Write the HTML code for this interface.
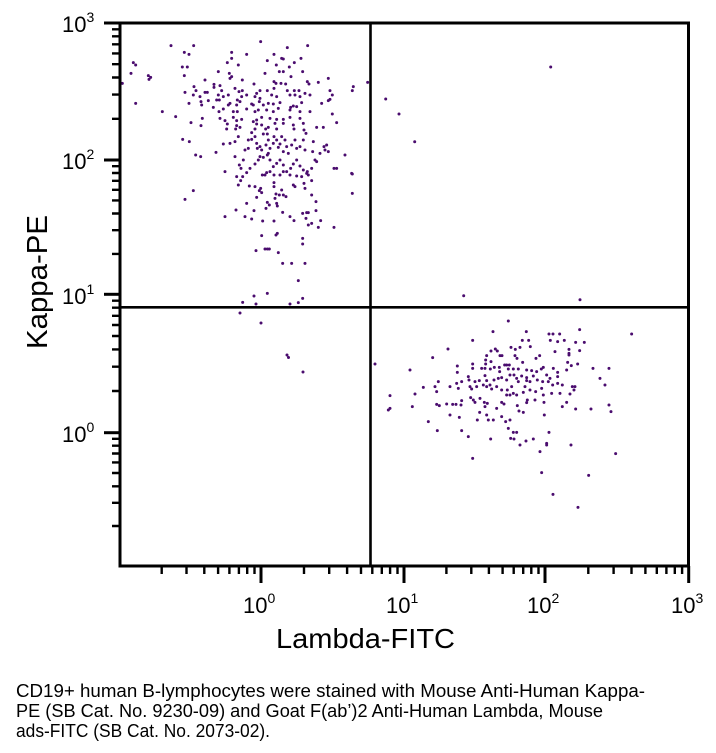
<!DOCTYPE html>
<html><head><meta charset="utf-8"><style>
html,body{margin:0;padding:0;background:#fff;}
svg{display:block;}
text{font-family:"Liberation Sans",Arial,sans-serif;fill:#000;}
</style></head><body>
<svg width="716" height="753" viewBox="0 0 716 753" xmlns="http://www.w3.org/2000/svg">
<rect width="716" height="753" fill="#fff"/>

<!-- data points -->
<g fill="none" stroke="#4a0c6e" stroke-linecap="round">
<!-- lower-right cluster -->
<path transform="translate(370,315) scale(0.3333)" stroke-width="9" d="M415 18h0M369 50h0M469 50h0M537 57h0M549 57h0M569 57h0M629 44h0M785 57h0M308 76h0M457 76h0M476 76h0M541 76h0M563 80h0M583 76h0M617 82h0M643 82h0M234 102h0M423 97h0M436 103h0M450 97h0M481 95h0M363 108h0M376 102h0M382 108h0M555 110h0M597 103h0M597 115h0M597 120h0M629 107h0M188 128h0M350 122h0M390 122h0M396 122h0M435 122h0M441 130h0M498 130h0M509 122h0M347 135h0M347 147h0M363 140h0M404 150h0M410 150h0M418 150h0M458 142h0M593 142h0M604 152h0M623 147h0M15 147h0M120 165h0M262 153h0M262 172h0M308 147h0M308 160h0M335 160h0M345 160h0M361 162h0M373 157h0M388 157h0M389 170h0M415 162h0M430 162h0M445 162h0M470 165h0M485 167h0M500 170h0M514 162h0M520 157h0M530 180h0M550 160h0M563 172h0M563 185h0M590 165h0M669 160h0M717 160h0M295 185h0M297 195h0M315 200h0M328 197h0M345 182h0M350 197h0M360 210h0M372 195h0M385 190h0M395 188h0M410 195h0M420 180h0M432 180h0M440 190h0M445 200h0M455 183h0M470 188h0M470 197h0M480 200h0M490 183h0M502 195h0M518 200h0M535 200h0M540 190h0M548 210h0M563 205h0M577 210h0M607 215h0M615 215h0M690 190h0M705 210h0M195 215h0M205 200h0M200 230h0M160 217h0M135 237h0M60 242h0M240 215h0M260 205h0M265 220h0M275 200h0M300 215h0M305 222h0M320 215h0M340 210h0M350 215h0M365 222h0M380 215h0M395 225h0M412 225h0M425 215h0M430 235h0M440 240h0M460 232h0M465 215h0M480 225h0M497 230h0M515 220h0M520 240h0M545 235h0M570 235h0M600 237h0M612 225h0M55 285h0M60 280h0M127 275h0M200 268h0M208 272h0M230 267h0M248 268h0M258 268h0M273 270h0M275 257h0M302 248h0M310 255h0M315 262h0M330 250h0M343 262h0M345 275h0M352 265h0M380 280h0M395 262h0M402 267h0M410 240h0M420 240h0M442 272h0M447 288h0M460 292h0M470 263h0M472 255h0M495 255h0M522 262h0M577 275h0M590 262h0M617 282h0M663 282h0M717 270h0M723 290h0M175 320h0M240 300h0M268 307h0M329 292h0M322 315h0M350 300h0M355 315h0M370 315h0M395 305h0M407 320h0M420 315h0M415 340h0M430 352h0M440 352h0M275 347h0M202 347h0M295 365h0M362 372h0M422 370h0M432 372h0M450 390h0M468 378h0M490 372h0M510 410h0M530 385h0M530 390h0M537 352h0M523 300h0M603 390h0M308 430h0M737 416h0M515 473h0M656 481h0M549 538h0M624 577h0"/>
<!-- upper-left top part -->
<path transform="translate(120,30) scale(0.3333)" stroke-width="9" d="M153 47h0M221 47h0M193 67h0M207 73h0M422 35h0M502 53h0M563 47h0M335 67h0M380 73h0M462 73h0M335 85h0M322 98h0M355 105h0M442 92h0M485 85h0M490 87h0M523 98h0M543 85h0M40 98h0M47 105h0M187 111h0M202 111h0M469 105h0M508 111h0M33 130h0M85 137h0M92 142h0M87 148h0M193 137h0M295 125h0M328 130h0M435 130h0M478 125h0M490 125h0M548 125h0M7 160h0M255 150h0M330 145h0M335 140h0M367 150h0M462 155h0M468 160h0M483 160h0M513 140h0M562 155h0M595 157h0M625 145h0M700 170h0M743 157h0M222 170h0M228 182h0M282 163h0M282 172h0M300 167h0M305 182h0M345 175h0M357 185h0M367 182h0M402 162h0M420 182h0M442 182h0M462 175h0M497 162h0M502 182h0M523 182h0M537 182h0M567 162h0M570 195h0M630 182h0M637 195h0M697 182h0M195 187h0M220 195h0M240 200h0M255 187h0M262 187h0M295 195h0M310 200h0M325 195h0M352 210h0M365 200h0M380 195h0M405 200h0M410 190h0M420 205h0M455 195h0M470 200h0M510 195h0M525 195h0M540 200h0M555 190h0M47 220h0M207 220h0M243 215h0M265 212h0M245 225h0M290 210h0M298 210h0M325 225h0M330 220h0M350 225h0M360 215h0M395 222h0M400 225h0M418 215h0M430 225h0M445 220h0M460 222h0M480 218h0M512 232h0M520 228h0M530 230h0M545 218h0M605 220h0M625 212h0M630 208h0M127 245h0M280 232h0M297 245h0M310 237h0M340 245h0M352 245h0M380 237h0M405 245h0M415 240h0M440 240h0M460 245h0M475 235h0M510 240h0M540 245h0M570 245h0M637 252h0M167 260h0M247 265h0M300 265h0M315 272h0M340 262h0M350 272h0M365 268h0M400 275h0M410 270h0M425 262h0M450 265h0M470 268h0M490 268h0M510 262h0M540 265h0M213 278h0M243 287h0M322 282h0M350 287h0M360 292h0M410 282h0M425 285h0M445 292h0M465 280h0M490 280h0M520 285h0M550 280h0M650 278h0M590 292h0M610 292h0M320 297h0M347 297h0M405 297h0M437 297h0M470 297h0M522 297h0"/>
<!-- upper-left middle part -->
<path transform="translate(180,40) scale(0.3333)" stroke-width="9" d="M8 298h0M28 305h0M47 345h0M62 350h0M135 395h0M108 337h0M130 312h0M150 310h0M165 305h0M175 290h0M165 350h0M178 375h0M183 385h0M190 360h0M195 330h0M205 325h0M205 300h0M215 298h0M215 278h0M225 290h0M230 310h0M232 325h0M240 320h0M245 330h0M258 315h0M265 340h0M265 300h0M270 325h0M280 310h0M282 290h0M290 300h0M295 322h0M300 312h0M305 290h0M310 335h0M315 300h0M320 320h0M325 340h0M335 315h0M345 300h0M350 325h0M360 320h0M370 300h0M375 330h0M378 280h0M372 270h0M250 282h0M262 282h0M170 410h0M188 410h0M200 398h0M210 385h0M225 372h0M235 360h0M240 350h0M250 352h0M262 345h0M270 360h0M280 380h0M290 370h0M300 360h0M310 375h0M320 395h0M332 385h0M340 372h0M350 360h0M360 378h0M370 390h0M382 395h0M385 405h0M398 335h0M400 305h0M410 365h0M432 320h0M440 315h0M462 385h0M470 385h0M495 345h0M247 405h0M255 405h0M260 398h0M270 395h0M282 405h0M300 405h0M310 395h0M330 405h0M350 408h0M365 410h0M380 400h0M395 385h0M405 360h0M420 340h0M435 330h0M445 335h0M515 400h0"/>
<!-- upper-left lower tail -->
<path transform="translate(180,170) scale(0.3333)" stroke-width="9" d="M40 62h0M15 88h0M135 140h0M168 120h0M175 45h0M182 32h0M195 140h0M200 100h0M208 48h0M215 147h0M222 122h0M225 50h0M230 82h0M238 62h0M242 55h0M245 68h0M245 197h0M228 242h0M248 153h0M258 115h0M262 97h0M268 105h0M255 237h0M262 237h0M268 237h0M282 50h0M282 38h0M285 85h0M282 153h0M288 72h0M288 195h0M292 190h0M295 248h0M290 100h0M292 108h0M298 75h0M305 60h0M308 127h0M310 75h0M308 280h0M318 80h0M330 140h0M335 280h0M340 45h0M342 152h0M345 50h0M355 332h0M368 130h0M368 205h0M368 222h0M372 40h0M375 55h0M375 280h0M380 128h0M385 128h0M378 145h0M385 165h0M395 160h0M395 32h0M395 75h0M408 95h0M408 122h0M415 172h0M422 152h0M462 172h0M517 70h0M517 12h0M222 378h0M262 370h0M188 397h0M228 402h0M330 402h0M355 398h0M368 385h0"/>
<!-- outliers -->
<path stroke-width="3" d="M550.7 67h0M385.7 99h0M399 114h0M414.7 141.7h0M463.7 295.7h0M580 299.7h0M240 313h0M261 323h0M287 355h0M288.5 357.5h0M303 372h0"/>
</g>

<!-- quadrant lines -->
<g stroke="#000" stroke-width="2.6">
<line x1="370.5" y1="23" x2="370.5" y2="566"/>
<line x1="120" y1="307.3" x2="688" y2="307.3"/>
</g>

<!-- frame -->
<rect x="120" y="23" width="568.5" height="543" fill="none" stroke="#000" stroke-width="3"/>

<!-- y ticks -->
<g stroke="#000" stroke-width="3">
<line x1="104" y1="23" x2="120" y2="23"/>
<line x1="104" y1="160" x2="120" y2="160"/>
<line x1="104" y1="294.3" x2="120" y2="294.3"/>
<line x1="104" y1="432.7" x2="120" y2="432.7"/>
</g>
<g stroke="#000" stroke-width="2.4">
<path d="M112 29.3H120M112 36.3H120M112 44.3H120M112 53.4H120M112 64.2H120M112 77.5H120M112 94.6H120M112 118.8H120M112 166.2H120M112 173H120M112 180.8H120M112 189.8H120M112 200.4H120M112 213.5H120M112 230.2H120M112 253.9H120M112 300.7H120M112 307.7H120M112 315.8H120M112 325H120M112 336H120M112 349.4H120M112 366.7H120M112 391H120M112 438.8H120M112 445.7H120M112 453.5H120M112 462.4H120M112 473H120M112 486.3H120M112 502.8H120M112 526H120"/>
</g>

<!-- x ticks -->
<g stroke="#000" stroke-width="3">
<line x1="261" y1="566" x2="261" y2="583"/>
<line x1="404" y1="566" x2="404" y2="583"/>
<line x1="545" y1="566" x2="545" y2="583"/>
<line x1="688.7" y1="566" x2="688.7" y2="583"/>
</g>
<g stroke="#000" stroke-width="2.4">
<path d="M161.7 566V574M186.5 566V574M204.3 566V574M218.1 566V574M229.4 566V574M238.9 566V574M247.2 566V574M254.5 566V574M304 566V574M329.2 566V574M347.1 566V574M361 566V574M372.3 566V574M381.8 566V574M390.1 566V574M397.5 566V574M446.4 566V574M471.3 566V574M488.9 566V574M502.6 566V574M513.7 566V574M523.2 566V574M531.3 566V574M538.5 566V574M588.3 566V574M613.6 566V574M631.5 566V574M645.4 566V574M656.8 566V574M666.4 566V574M674.8 566V574M682.1 566V574"/>
</g>

<!-- y tick labels -->
<g font-size="22">
<text x="62" y="32">10<tspan dy="-10" font-size="14">3</tspan></text>
<text x="62" y="169">10<tspan dy="-10" font-size="14">2</tspan></text>
<text x="62" y="304">10<tspan dy="-10" font-size="14">1</tspan></text>
<text x="62" y="442">10<tspan dy="-10" font-size="14">0</tspan></text>
</g>

<!-- x tick labels -->
<g font-size="22">
<text x="243" y="613">10<tspan dy="-10" font-size="14">0</tspan></text>
<text x="386" y="613">10<tspan dy="-10" font-size="14">1</tspan></text>
<text x="527" y="613">10<tspan dy="-10" font-size="14">2</tspan></text>
<text x="671" y="613">10<tspan dy="-10" font-size="14">3</tspan></text>
</g>

<!-- axis titles -->
<text x="276" y="648" font-size="28" textLength="179" lengthAdjust="spacingAndGlyphs">Lambda-FITC</text>
<text transform="translate(47,282) rotate(-90)" text-anchor="middle" font-size="29" textLength="134" lengthAdjust="spacingAndGlyphs">Kappa-PE</text>

<!-- caption -->
<g font-size="18">
<text x="16" y="697" textLength="629" lengthAdjust="spacingAndGlyphs">CD19+ human B-lymphocytes were stained with Mouse Anti-Human Kappa-</text>
<text x="16" y="717" textLength="587" lengthAdjust="spacingAndGlyphs">PE (SB Cat. No. 9230-09) and Goat F(ab’)2 Anti-Human Lambda, Mouse</text>
<text x="16" y="737" textLength="254" lengthAdjust="spacingAndGlyphs">ads-FITC (SB Cat. No. 2073-02).</text>
</g>
</svg>
</body></html>
